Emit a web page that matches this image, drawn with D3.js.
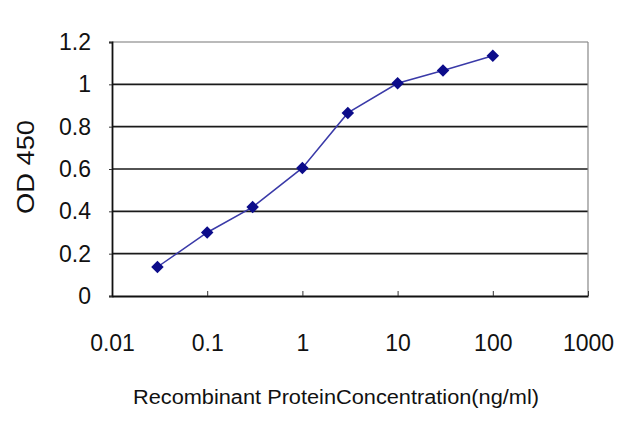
<!DOCTYPE html>
<html><head><meta charset="utf-8">
<script src="https://cdn.jsdelivr.net/npm/d3@7"></script>
<style>body{margin:0;background:#fff}svg{display:block}text{font-family:"Liberation Sans",Arial,sans-serif;fill:#111}</style>
</head><body>
<svg id="c" width="640" height="427"></svg>
<script>
const concentrations = [0.03, 0.1, 0.3, 1, 3, 10, 30, 100];
const odValues = [0.137, 0.30, 0.42, 0.605, 0.865, 1.005, 1.065, 1.135];
const xTicks = [0.01, 0.1, 1, 10, 100, 1000];
const xTickLabels = ["0.01", "0.1", "1", "10", "100", "1000"];
const yTicks = [0, 0.2, 0.4, 0.6, 0.8, 1, 1.2];
const yTickLabels = ["0", "0.2", "0.4", "0.6", "0.8", "1", "1.2"];

const svg = d3.select("#c");
const L = 112, R = 588, T = 42, B = 296;
const x = d3.scaleLog().domain([0.01, 1000]).range([L, R]);
const y = d3.scaleLinear().domain([0, 1.2]).range([B, T]);

// gridlines
svg.append("g").selectAll("line").data(yTicks.filter(d => d > 0 && d < 1.2)).join("line")
  .attr("x1", L).attr("x2", R).attr("y1", d => y(d)).attr("y2", d => y(d))
  .attr("stroke", "#1a1a1a").attr("stroke-width", 1.7);
// frame top/right (grey)
svg.append("line").attr("x1", L).attr("x2", R).attr("y1", y(1.2)).attr("y2", y(1.2)).attr("stroke", "#777").attr("stroke-width", 1.2);
svg.append("line").attr("x1", R).attr("x2", R).attr("y1", T).attr("y2", B).attr("stroke", "#888").attr("stroke-width", 1.2);

// axes
const xAxis = d3.axisBottom(x).tickValues(xTicks).tickFormat((d, i) => xTickLabels[i]).tickSizeInner(-5).tickSizeOuter(0).tickPadding(55);
const gx = svg.append("g").attr("transform", `translate(0,${B})`).call(xAxis);
gx.select(".domain").attr("stroke", "#111").attr("stroke-width", 1.8);
gx.selectAll(".tick line").attr("stroke", "#333");
gx.selectAll("text").attr("font-size", 23).attr("fill", "#111").attr("dy", "0");

const yAxis = d3.axisLeft(y).tickValues(yTicks).tickFormat((d, i) => yTickLabels[i]).tickSize(3).tickPadding(18);
const gy = svg.append("g").attr("transform", `translate(${L},0)`).call(yAxis);
gy.select(".domain").attr("stroke", "#111").attr("stroke-width", 1.8);
gy.selectAll(".tick line").attr("stroke", "#333");
gy.selectAll("text").attr("font-size", 23).attr("fill", "#111");

// line
const pts = concentrations.map((c, i) => [c, odValues[i]]);
svg.append("path").datum(pts)
  .attr("d", d3.line().x(d => x(d[0])).y(d => y(d[1])))
  .attr("fill", "none").attr("stroke", "#3a3aa8").attr("stroke-width", 1.5);
svg.append("g").selectAll("path").data(pts).join("path")
  .attr("transform", d => `translate(${x(d[0])},${y(d[1])})`)
  .attr("d", d3.symbol(d3.symbolDiamond2, 100)())
  .attr("fill", "#0c0c8a");

// titles
svg.append("text").attr("x", 336).attr("y", 404).attr("text-anchor", "middle")
  .attr("font-size", 20).attr("textLength", 406).attr("lengthAdjust", "spacingAndGlyphs")
  .text("Recombinant ProteinConcentration(ng/ml)");
svg.append("text").attr("transform", "translate(34,167) rotate(-90)").attr("text-anchor", "middle")
  .attr("font-size", 23).attr("textLength", 94).attr("lengthAdjust", "spacingAndGlyphs").text("OD 450");
</script>
</body></html>
